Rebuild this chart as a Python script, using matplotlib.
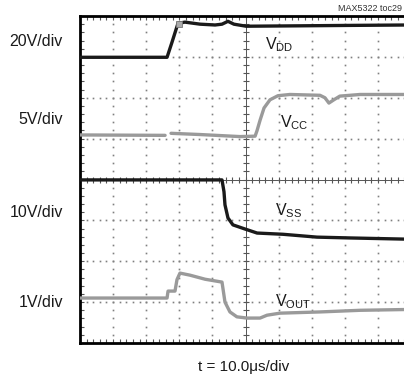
import numpy as np
import matplotlib
matplotlib.use('Agg')
from matplotlib import pyplot as plt
from matplotlib.ticker import MultipleLocator

plt.rcParams['font.family'] = ['Liberation Sans', 'DejaVu Sans']
plt.rcParams['mathtext.fontset'] = 'custom'
plt.rcParams['mathtext.rm'] = 'Liberation Sans'

#------------------------------------------------------------
# Scope traces, in screen divisions (x: 0-10 div, y: 0-8 div)
t_vdd = [0, 2.63, 2.78, 2.96, 3.17, 3.63, 4.08, 4.29, 4.47, 4.65, 5.02, 6.65, 8.16, 9.9]
v_vdd = [6.99, 6.99, 7.36, 7.82, 7.85, 7.80, 7.78, 7.80, 7.87, 7.80, 7.75, 7.76, 7.77, 7.78]

t_vcc = [0, 2.57, 2.60, 2.72, 2.75, 3.63, 4.83, 5.29, 5.35, 5.44, 5.56, 5.74, 5.98,
         6.34, 7.25, 7.40, 7.52, 7.67, 7.85, 8.46, 9.9]
v_vcc = [5.09, 5.08, np.nan, np.nan, 5.13, 5.10, 5.05, 5.06, 5.20, 5.45, 5.75, 5.95, 6.05,
         6.08, 6.06, 6.00, 5.87, 5.95, 6.04, 6.08, 6.08]

t_vss = [0, 4.29, 4.35, 4.38, 4.47, 4.62, 4.98, 5.35, 6.13, 7.16, 8.16, 9.9]
v_vss = [3.99, 3.99, 3.70, 3.38, 3.06, 2.89, 2.79, 2.69, 2.66, 2.59, 2.57, 2.54]

t_vout = [0, 2.63, 2.66, 2.87, 2.93, 3.02, 3.32, 3.78, 4.29, 4.38, 4.53, 4.74, 5.05,
          5.44, 5.65, 6.04, 7.25, 8.46, 9.9]
v_vout = [1.10, 1.10, 1.27, 1.27, 1.55, 1.71, 1.66, 1.56, 1.49, 1.00, 0.76, 0.64, 0.61,
          0.61, 0.68, 0.73, 0.76, 0.80, 0.82]

scales = ['20V/div', '5V/div', '10V/div', '1V/div']
scale_y = [7.38, 5.46, 3.2, 1.0]

#------------------------------------------------------------
fig = plt.figure(figsize=(4.04, 3.74), dpi=100)
ax = fig.add_axes([80 / 404., 31 / 374., 331 / 404., 327 / 374.])
ax.set_xlim(0, 10)
ax.set_ylim(0, 8)

# dotted graticule
minor = np.arange(0, 10.01, 0.2)
for y in [1, 2, 3, 5, 6, 7]:
    ax.plot(minor, np.full_like(minor, y), ls='none', marker='s', ms=1.2,
            mec='none', mfc='#7f7f7f')
minor_y = np.arange(0, 8.01, 0.2)
for x in [1, 2, 3, 4, 6, 7, 8, 9]:
    ax.plot(np.full_like(minor_y, x), minor_y, ls='none', marker='s', ms=1.2,
            mec='none', mfc='#7f7f7f')

# center crosshair with ticks
ax.axhline(4, color='#555555', lw=0.7, zorder=1)
ax.axvline(5, color='#555555', lw=0.7, zorder=1)
ax.plot(minor, np.full_like(minor, 4), ls='none', marker='|', ms=5,
        mew=0.8, color='#555555')
ax.plot(np.full_like(minor_y, 5), minor_y, ls='none', marker='_', ms=5,
        mew=0.8, color='#555555')

# traces
ax.plot(t_vdd, v_vdd, color='#1a1a1a', lw=2.4, solid_capstyle='round', zorder=3)
ax.plot(t_vcc, v_vcc, color='#9a9a9a', lw=2.4, solid_capstyle='round', zorder=3)
ax.plot(t_vss, v_vss, color='#1a1a1a', lw=2.4, solid_capstyle='round', zorder=3)
ax.plot(t_vout, v_vout, color='#9a9a9a', lw=2.4, solid_capstyle='round', zorder=3)

# trigger marker
ax.plot([2.98], [7.8], marker='s', ms=4, mfc='#aaaaaa', mec='#777777', mew=0.6, zorder=4)

# trace names
kw = dict(fontsize=11.5, va='center', ha='left', color='#1a1a1a')
ax.text(5.59, 7.29, r'V$_{\mathrm{DD}}$', **kw)
ax.text(6.04, 5.40, r'V$_{\mathrm{CC}}$', **kw)
ax.text(5.89, 3.25, r'V$_{\mathrm{SS}}$', **kw)
ax.text(5.89, 1.02, r'V$_{\mathrm{OUT}}$', **kw)

# frame and inner ticks
for s in ax.spines.values():
    s.set_linewidth(2.0)
ax.xaxis.set_major_locator(MultipleLocator(1))
ax.yaxis.set_major_locator(MultipleLocator(1))
ax.xaxis.set_minor_locator(MultipleLocator(0.2))
ax.yaxis.set_minor_locator(MultipleLocator(0.2))
ax.tick_params(which='both', direction='in', top=True, right=True,
               labelbottom=False, labelleft=False, length=3, width=0.8,
               color='#555555')

# channel scales on the left
for lab, y in zip(scales, scale_y):
    ax.text(-0.52, y, lab, fontsize=11.5, ha='right', va='center',
            color='#1a1a1a', clip_on=False)

fig.text(244 / 404., 0.019, u't = 10.0\u03bcs/div', fontsize=11,
         ha='center', va='center', color='#1a1a1a')
fig.text(402 / 404., 0.978, 'MAX5322 toc29', fontsize=6.5,
         ha='right', va='center', color='#333333')

fig.savefig('out.png', dpi=100)
